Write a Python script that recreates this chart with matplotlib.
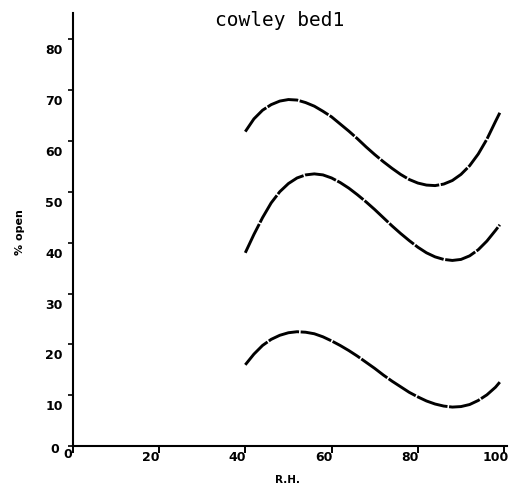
import matplotlib
matplotlib.use("Agg")
import matplotlib.pyplot as plt
from matplotlib.transforms import ScaledTranslation

# Relative humidity sample points and fitted % open for the three series
rh = [40, 42, 44, 46, 48, 50, 52, 54, 56, 58, 60, 62, 64, 66, 68, 70,
      72, 74, 76, 78, 80, 82, 84, 86, 88, 90, 92, 94, 96, 98, 99]
upper = [61.8, 64.3, 66.0, 67.1, 67.8, 68.1, 68.0, 67.5, 66.8, 65.8, 64.7,
         63.3, 61.9, 60.4, 58.8, 57.3, 55.9, 54.6, 53.4, 52.4, 51.7, 51.3,
         51.2, 51.5, 52.2, 53.4, 55.1, 57.4, 60.3, 63.8, 65.5]
middle = [38.0, 41.6, 44.9, 47.8, 50.0, 51.6, 52.7, 53.3, 53.5, 53.3, 52.7,
          51.8, 50.7, 49.4, 48.0, 46.5, 44.9, 43.3, 41.8, 40.4, 39.1, 38.0,
          37.2, 36.7, 36.5, 36.7, 37.4, 38.6, 40.3, 42.4, 43.5]
lower = [16.0, 18.1, 19.8, 21.0, 21.8, 22.3, 22.5, 22.4, 22.1, 21.5, 20.7,
         19.8, 18.8, 17.7, 16.5, 15.3, 14.0, 12.8, 11.7, 10.6, 9.7, 8.9,
         8.3, 7.9, 7.7, 7.8, 8.2, 9.0, 10.1, 11.6, 12.6]

x_ticks = [0, 20, 40, 60, 80, 100]
y_ticks = [0, 10, 20, 30, 40, 50, 60, 70, 80]

fig = plt.figure(figsize=(5.15, 4.89), dpi=100)
ax = fig.add_axes([0.1412, 0.0853, 0.8427, 0.8861])
ax.set_xlim(0, 100.6)
ax.set_ylim(0, 85.1)

for series in (upper, middle, lower):
    ax.plot(rh, series, color="black", linewidth=2.1,
            dashes=(11, 0.55), dash_capstyle="butt", solid_joinstyle="round",
            dash_joinstyle="round")

for side in ("top", "right"):
    ax.spines[side].set_visible(False)
for side in ("left", "bottom"):
    ax.spines[side].set_linewidth(1.5)
    ax.spines[side].set_color("black")

ax.set_xticks(x_ticks)
ax.set_yticks(y_ticks)
ax.set_xticklabels([str(v) for v in x_ticks])
ax.set_yticklabels([str(v) for v in y_ticks])
ax.tick_params(axis="x", direction="out", length=5, width=1.4, pad=1,
               labelsize=9)
ax.tick_params(axis="y", direction="out", length=3.6, width=1.2, pad=3.5,
               labelsize=9)
for lab in ax.get_xticklabels() + ax.get_yticklabels():
    lab.set_fontweight("bold")

# plotter-style label placement: labels sit low/left of their ticks
for lab, v in zip(ax.get_xticklabels(), x_ticks):
    dx, dy = (-5, 8) if v == 0 else (-8, 5)
    lab.set_transform(lab.get_transform() +
                      ScaledTranslation(dx / 100, dy / 100, fig.dpi_scale_trans))
for lab, v in zip(ax.get_yticklabels(), y_ticks):
    dx, dy = (-4, -1) if v == 0 else (0, -9)
    lab.set_transform(lab.get_transform() +
                      ScaledTranslation(dx / 100, dy / 100, fig.dpi_scale_trans))

fig.text(280 / 515, 1 - 21 / 489, "cowley bed1", ha="center", va="center",
         family="DejaVu Sans Mono", fontsize=14)
fig.text(20 / 515, 1 - 232 / 489, "% open", rotation=90, ha="center",
         va="center", fontsize=8, fontweight="bold")
fig.text(287 / 515, 1 - 480 / 489, "R.H.", ha="center", va="center",
         fontsize=7.5, fontweight="bold")

fig.savefig("out.png", dpi=100)
